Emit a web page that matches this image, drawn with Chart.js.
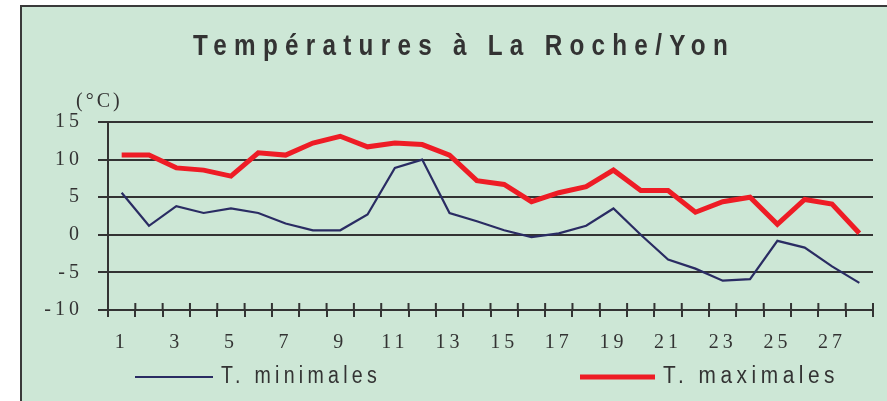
<!DOCTYPE html>
<html>
<head>
<meta charset="utf-8">
<script src="https://cdn.jsdelivr.net/npm/chart.js@4.4.0/dist/chart.umd.min.js"></script>
<style>
  html, body { margin: 0; padding: 0; background: #fff; overflow: hidden; }
  #frame {
    position: absolute; left: 20px; top: 5px; width: 900px; height: 420px;
    background: #cde7d6; border-left: 2px solid #3a3a3a; border-top: 2px solid #3a3a3a;
  }
  #chart { position: absolute; left: 0; top: 0; }
</style>
</head>
<body>
<div id="frame"></div>
<canvas id="chart" width="887" height="401"></canvas>
<script>
const title = 'Températures à La Roche/Yon'
const unit = '(°C)'
const days = Array.from({ length: 28 }, (_, i) => String(i + 1))
const tMin = [5.6, 1.2, 3.8, 2.9, 3.5, 2.9, 1.5, 0.6, 0.6, 2.7, 8.9, 10.0, 2.9, 1.8,
    0.6, -0.3, 0.2, 1.2, 3.5, 0.0, -3.3, -4.5, -6.1, -5.9, -0.8, -1.7, -4.2, -6.4]
const tMax = [10.6, 10.6, 8.9, 8.6, 7.8, 10.9, 10.6, 12.2, 13.1, 11.7, 12.2, 12.0, 10.6, 7.2,
    6.7, 4.4, 5.6, 6.4, 8.6, 5.9, 5.9, 3.0, 4.4, 5.0, 1.4, 4.7, 4.1, 0.2]

const ink = '#333333'
const serif = "'Liberation Serif', 'DejaVu Serif', serif"
const sans = "'Liberation Sans', Arial, sans-serif"

// letter spacing on the canvas, the original has widely spaced glyphs
const spacing = {
    id: 'spacing',
    beforeUpdate(chart) { chart.ctx.letterSpacing = '4px' },
    beforeDraw(chart) { chart.ctx.letterSpacing = '4px' }
}

// narrow text: draw squeezed to a given width
function narrowText(ctx, text, x, y, width) {
    const k = width / ctx.measureText(text).width
    ctx.save()
    ctx.translate(x, y)
    ctx.scale(k, 1)
    ctx.fillText(text, 0, 0)
    ctx.restore()
}

// title, unit, tick marks over the axis and legend
const decor = {
    id: 'decor',
    afterDraw(chart) {
        const ctx = chart.ctx
        const x = chart.scales.x
        const area = chart.chartArea
        ctx.save()

        ctx.strokeStyle = ink
        ctx.lineWidth = 2
        for (let i = 0; i <= days.length; i++) {
            const px = x.getPixelForValue(i - 0.5)
            ctx.beginPath()
            ctx.moveTo(px, area.bottom - 7)
            ctx.lineTo(px, area.bottom)
            ctx.stroke()
        }

        ctx.fillStyle = ink
        ctx.textAlign = 'left'
        ctx.textBaseline = 'middle'
        ctx.letterSpacing = '9px'
        ctx.font = 'bold 30px ' + sans
        narrowText(ctx, title, 193, 47, 542)

        ctx.letterSpacing = '3px'
        ctx.font = '20px ' + serif
        ctx.fillText(unit, 76, 102)

        const items = [[135, 213], [580, 655]]
        ctx.font = '23px ' + sans
        ctx.letterSpacing = '5px'
        chart.data.datasets.forEach((ds, i) => {
            const [a, b] = items[i]
            ctx.strokeStyle = ds.borderColor
            ctx.lineWidth = ds.borderWidth
            ctx.beginPath()
            ctx.moveTo(a, 377)
            ctx.lineTo(b, 377)
            ctx.stroke()
            ctx.fillStyle = ink
            narrowText(ctx, ds.label, b + 8, 377, i === 0 ? 160 : 176)
        })
        ctx.restore()
    }
}

new Chart(document.getElementById('chart'), {
    type: 'line',
    data: {
        labels: days,
        datasets: [
            { label: 'T. minimales', data: tMin, borderColor: '#2a2c63', borderWidth: 2.2 },
            { label: 'T. maximales', data: tMax, borderColor: '#ee1c25', borderWidth: 5 }
        ]
    },
    options: {
        responsive: false,
        animation: false,
        layout: { padding: { top: 122, right: 14, left: 0, bottom: 0 } },
        elements: { point: { radius: 0 }, line: { tension: 0, borderJoinStyle: 'miter' } },
        plugins: { legend: { display: false }, title: { display: false }, tooltip: { enabled: false } },
        scales: {
            x: {
                offset: true,
                grid: { offset: true, drawOnChartArea: false, color: ink, lineWidth: 2, tickLength: 7 },
                border: { color: ink, width: 2 },
                ticks: {
                    autoSkip: false, maxRotation: 0, padding: 14, color: ink,
                    font: { family: serif, size: 20 },
                    callback: (v, i) => (i % 2 === 0 ? days[i] : '')
                },
                afterFit: s => { s.height = 91 }
            },
            y: {
                min: -10, max: 15,
                ticks: { stepSize: 5, padding: 15, color: ink, font: { family: serif, size: 20 } },
                grid: { color: ink, lineWidth: 2, tickLength: 10 },
                border: { color: ink, width: 2 },
                afterFit: s => { s.width = 108 }
            }
        }
    },
    plugins: [spacing, decor]
})
</script>
</body>
</html>
